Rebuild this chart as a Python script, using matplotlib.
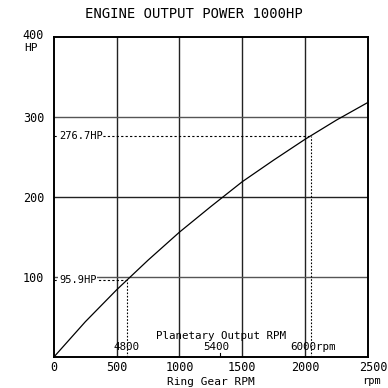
import matplotlib.pyplot as plt
import matplotlib.transforms as mtransforms
import numpy as np

# ring gear rpm vs output power
rpm = np.array([0, 250, 500, 750, 1000, 1250, 1500, 1750, 2000, 2250, 2500])
hp = np.array([0, 44, 84, 121, 156, 188, 219, 246, 272, 296, 318])

marks_hp = [95.9, 276.7]
mark_labels = ["95.9HP", "276.7HP"]

planet_labels = ["4800", "5400", "6000"]
planet_rpm = [575, 1320, 2045]   # ring gear rpm where planetary ticks sit

xticks = [0, 500, 1000, 1500, 2000, 2500]
yticks = [100, 200, 300, 400]

plt.rcParams['font.family'] = ['DejaVu Sans Mono']

fig = plt.figure(figsize=(3.88, 3.88), dpi=100)
ax = fig.add_axes([0.139, 0.080, 0.809, 0.825])

ax.plot(rpm, hp, color='black', lw=0.9)

# grid
for x in xticks[1:-1]:
    ax.axvline(x, color='#222222', lw=1.0, zorder=0)
for y in yticks[:-1]:
    ax.axhline(y, color='#555555' if y != 200 else '#222222', lw=1.0, zorder=0)

# marked operating points
for h, lab in zip(marks_hp, mark_labels):
    r = np.interp(h, hp, rpm)
    ax.plot([0, r], [h, h], color='black', lw=0.8, ls=(0, (2, 2)))
    ax.plot([r, r], [0, h], color='black', lw=0.8, ls=(0, (1.5, 1.5)))
    ax.text(40, h, lab, fontsize=7.5, va='center', ha='left',
            bbox=dict(facecolor='white', edgecolor='none', pad=0.5))

# planetary output rpm scale
ax.text(1330, 26, "Planetary Output RPM", fontsize=7.8, ha='center', va='center')
ax.text(planet_rpm[0], 13, planet_labels[0], fontsize=7.8, ha='center', va='center')
ax.text(planet_rpm[1] - 30, 13, planet_labels[1], fontsize=7.8, ha='center', va='center')
off = mtransforms.offset_copy(ax.transData, fig=fig, x=-20, y=0, units='dots')
ax.text(planet_rpm[2], 13, planet_labels[2] + "rpm", fontsize=7.8, ha='left',
        va='center', transform=off)
ax.plot([planet_rpm[1], planet_rpm[1]], [0, 5], color='black', lw=0.8)

ax.set_xlim(0, 2500)
ax.set_ylim(0, 400)
ax.set_xticks(xticks)
ax.set_yticks(yticks)
ax.tick_params(length=0, labelsize=8.5)
ax.tick_params(axis='x', pad=3)
ax.tick_params(axis='y', pad=7)
ax.set_yticklabels([str(v) for v in yticks])
# nudge the top label up so the "HP" unit fits beneath it
lab400 = ax.get_yticklabels()[-1]
lab400.set_transform(lab400.get_transform() +
                     mtransforms.ScaledTranslation(0, 3 / 100, fig.dpi_scale_trans))
# last x label sits a little right, like the original
lab2500 = ax.get_xticklabels()[-1]
lab2500.set_transform(lab2500.get_transform() +
                      mtransforms.ScaledTranslation(6 / 100, 0, fig.dpi_scale_trans))
for s in ax.spines.values():
    s.set_linewidth(1.4)

fig.text(0.544, 0.016, "Ring Gear RPM", fontsize=8, ha='center', va='center')
fig.text(0.958, 0.019, "rpm", fontsize=7.5, ha='center', va='center')
fig.text(0.080, 0.877, "HP", fontsize=8, ha='center', va='center')
fig.text(0.5, 0.963, "ENGINE OUTPUT POWER 1000HP", fontsize=10,
         ha='center', va='center')

fig.savefig("out.png", dpi=100)
